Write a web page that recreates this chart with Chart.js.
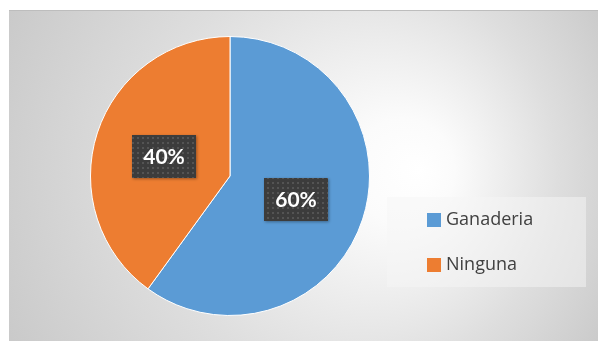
<!DOCTYPE html>
<html>
<head>
<meta charset="utf-8">
<script src="https://cdn.jsdelivr.net/npm/chart.js@4/dist/chart.umd.min.js"></script>
<style>
html,body{margin:0;padding:0;background:#fff;}
#wrap{width:598px;height:341px;position:relative;}
</style>
</head>
<body>
<div id="wrap"><canvas id="c" width="598" height="341"></canvas></div>
<script>
const categories = ["Ganaderia", "Ninguna"];
const values = [60, 40];
const percentLabels = ["60%", "40%"];
const colors = ["#5B9BD5", "#ED7D31"];

function makePattern(ctx) {
  const p = document.createElement('canvas');
  p.width = 5; p.height = 5;
  const pc = p.getContext('2d');
  pc.fillStyle = '#3c3c3c';
  pc.fillRect(0, 0, 5, 5);
  pc.fillStyle = '#545454';
  pc.fillRect(2, 2, 2, 2);
  return ctx.createPattern(p, 'repeat');
}

const bgPlugin = {
  id: 'bg',
  beforeDraw(chart) {
    const ctx = chart.ctx;
    ctx.save();
    ctx.fillStyle = '#ffffff';
    ctx.fillRect(0, 0, chart.width, chart.height);
    const g = ctx.createRadialGradient(420, 170, 0, 305, 175, 345);
    g.addColorStop(0, '#ffffff');
    g.addColorStop(0.15, '#fbfbfb');
    g.addColorStop(0.6, '#dedede');
    g.addColorStop(1, '#c9c9c9');
    ctx.fillStyle = g;
    ctx.fillRect(9, 10, chart.width - 9, chart.height - 10);
    ctx.fillStyle = '#bdbdbd';
    ctx.fillRect(9, 10, chart.width - 9, 1);
    ctx.restore();
  }
};

const labelPlugin = {
  id: 'labels',
  afterDraw(chart) {
    const ctx = chart.ctx;
    const meta = chart.getDatasetMeta(0);
    const pat = makePattern(ctx);
    ctx.save();
    meta.data.forEach((arc, i) => {
      const pos = arc.tooltipPosition();
      const w = 64, h = 43;
      const x = Math.round(pos.x - w / 2), y = Math.round(pos.y - h / 2 + 2);
      ctx.shadowColor = 'rgba(0,0,0,0.35)';
      ctx.shadowBlur = 3;
      ctx.shadowOffsetX = 1;
      ctx.shadowOffsetY = 1;
      ctx.fillStyle = pat;
      ctx.fillRect(x, y, w, h);
      ctx.shadowColor = 'transparent';
      ctx.fillStyle = '#ffffff';
      ctx.font = 'bold 21px Lato, "Open Sans", sans-serif';
      ctx.textAlign = 'center';
      ctx.textBaseline = 'middle';
      ctx.fillText(percentLabels[i], x + w / 2, y + h / 2 + 1);
    });
    // legend
    ctx.fillStyle = 'rgba(245,245,245,0.5)';
    ctx.fillRect(387, 197, 199, 90);
    ctx.font = '18px "Open Sans", Lato, sans-serif';
    ctx.textAlign = 'left';
    ctx.textBaseline = 'middle';
    const ys = [220, 265];
    categories.forEach((c, i) => {
      ctx.fillStyle = colors[i];
      ctx.fillRect(427, ys[i] - 7, 14, 14);
      ctx.fillStyle = '#404040';
      ctx.fillText(c, 446, ys[i]);
    });
    ctx.restore();
  }
};

new Chart(document.getElementById('c'), {
  type: 'pie',
  data: {
    labels: categories,
    datasets: [{
      data: values,
      backgroundColor: colors,
      borderColor: '#ffffff',
      borderWidth: 1
    }]
  },
  options: {
    responsive: false,
    animation: false,
    layout: { padding: { left: 90, right: 228, top: 36, bottom: 25 } },
    plugins: { legend: { display: false }, tooltip: { enabled: false } }
  },
  plugins: [bgPlugin, labelPlugin]
});
</script>
</body>
</html>
